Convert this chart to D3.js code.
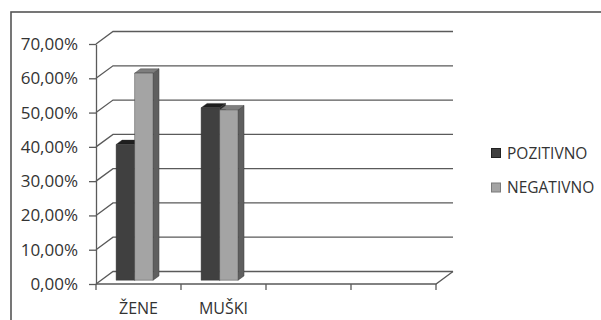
<!DOCTYPE html>
<html><head><meta charset="utf-8">
<script src="https://cdn.jsdelivr.net/npm/d3@7/dist/d3.min.js"></script>
<style>
html,body{margin:0;padding:0;background:#fff;overflow:hidden}
svg{display:block}
text{font-family:"Open Sans",sans-serif;fill:#333}
</style></head>
<body><svg id="c" width="601" height="320"></svg>
<script>
// ---- data ----
const categories = ["ŽENE", "MUŠKI", "", ""];
const seriesNames = ["POZITIVNO", "NEGATIVNO"];
const pozitivno = [0.396, 0.503, null, null];
const negativno = [0.604, 0.497, null, null];
const yTicks = [0, 0.1, 0.2, 0.3, 0.4, 0.5, 0.6, 0.7];

const series = [
  {name: seriesNames[0], values: pozitivno, front: "#404040", topc: "#1e1e1e", side: "#2b2b2b", legend: "#404040", legendStroke: "#222"},
  {name: seriesNames[1], values: negativno, front: "#a4a4a4", topc: "#7e7e7e", side: "#5f5f5f", legend: "#a4a4a4", legendStroke: "#7a7a7a"}
];

const svg = d3.select("#c");
const locale = d3.formatLocale({decimal: ",", thousands: ".", grouping: [3], currency: ["", ""]});
const fmt = locale.format(".2%");
const FONT = "'Open Sans',sans-serif", FS = "15.5px";

// layout
const pLeft = 96, pRight = 436, pBottom = 284, pTop = 44;
const DX = 17, DY = 12.5; // 3D depth offsets of the back wall
const x = d3.scaleBand().domain(d3.range(categories.length)).range([pLeft, pRight]).paddingInner(0).paddingOuter(0);
const y = d3.scaleLinear().domain([0, 0.7]).range([pBottom, pTop]);
const proj = (px, py, z) => [px + DX * z, py - DY * z];

// frame
svg.append("rect").attr("x", 11).attr("y", 12).attr("width", 700).attr("height", 400)
  .attr("fill", "none").attr("stroke", "#555").attr("stroke-width", 1.6);

const grid = svg.append("g").attr("stroke", "#5a5a5a").attr("stroke-width", 1.3).attr("fill", "none");
yTicks.forEach(v => {
  const a = proj(pLeft, y(v), 0), b = proj(pLeft, y(v), 1), c = proj(pRight, y(v), 1);
  grid.append("path").attr("d", `M${a}L${b}L${c}`);
});
{
  const a = proj(pLeft, y(0), 0), b = proj(pRight, y(0), 0), c = proj(pRight, y(0), 1);
  grid.append("path").attr("d", `M${a}L${b}L${c}`);
}

// Y axis
const yAxis = svg.append("g").attr("transform", `translate(${pLeft},0)`)
  .call(d3.axisLeft(y).tickValues(yTicks).tickFormat(fmt).tickSize(7).tickSizeOuter(0).tickPadding(11));
yAxis.selectAll("line,path").attr("stroke", "#5a5a5a").attr("stroke-width", 1.3);
yAxis.selectAll("text").style("font-family", FONT).style("font-size", "17px").attr("fill", "#333");

// X axis ticks at category boundaries
const bounds = d3.range(categories.length + 1).map(i => pLeft + i * x.step());
svg.append("g").selectAll("line").data(bounds).join("line")
  .attr("x1", d => d).attr("x2", d => d).attr("y1", pBottom).attr("y2", pBottom + 6)
  .attr("stroke", "#5a5a5a").attr("stroke-width", 1.3);
svg.append("g").selectAll("text").data(categories).join("text")
  .attr("x", (d, i) => x(i) + x.bandwidth() / 2).attr("y", 314)
  .attr("text-anchor", "middle").style("font-family", FONT).style("font-size", "16px").text(d => d);

// bars
const z0 = 0.3, z1 = 0.65;
const barW = 18.5, groupOffset = 15;
const bars = svg.append("g");
categories.forEach((c, ci) => {
  series.forEach((s, si) => {
    const v = s.values[ci];
    if (v == null) return;
    const bx = x(ci) + groupOffset + si * barW;
    const p = (px, val, z) => proj(px, y(val), z);
    const fbl = p(bx, 0, z0), fbr = p(bx + barW, 0, z0), ftl = p(bx, v, z0), ftr = p(bx + barW, v, z0);
    const btl = p(bx, v, z1), btr = p(bx + barW, v, z1), bbr = p(bx + barW, 0, z1);
    const g = bars.append("g").attr("stroke", "#333").attr("stroke-width", 0.4).attr("stroke-linejoin", "round");
    g.append("path").attr("d", `M${ftr}L${btr}L${bbr}L${fbr}Z`).attr("fill", s.side);
    g.append("path").attr("d", `M${ftl}L${ftr}L${btr}L${btl}Z`).attr("fill", s.topc);
    g.append("path").attr("d", `M${fbl}L${fbr}L${ftr}L${ftl}Z`).attr("fill", s.front);
  });
});

// legend
const lg = svg.append("g").attr("transform", "translate(491,148)");
const li = lg.selectAll("g").data(series).join("g").attr("transform", (d, i) => `translate(0,${i * 34.5})`);
li.append("rect").attr("x", 0.5).attr("y", 0.5).attr("width", 9).attr("height", 9)
  .attr("fill", d => d.legend).attr("stroke", d => d.legendStroke).attr("stroke-width", 1);
li.append("text").attr("x", 16).attr("y", 10.5).style("font-family", FONT).style("font-size", FS).text(d => d.name);
</script></body></html>
